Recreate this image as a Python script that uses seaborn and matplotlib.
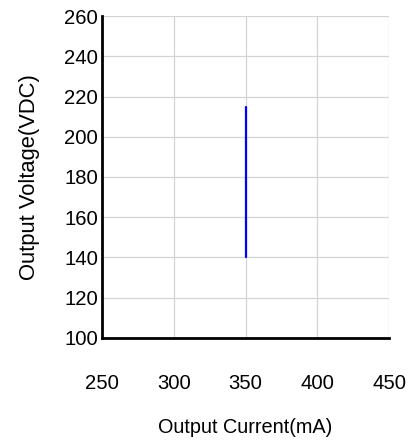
import seaborn as sns
import pandas as pd
import matplotlib.pyplot as plt

# Output range at 350 mA
current = [350, 350]
voltage = [140, 215]

x_ticks = [250, 300, 350, 400, 450]
y_ticks = [100, 120, 140, 160, 180, 200, 220, 240, 260]

df = pd.DataFrame({"current": current, "voltage": voltage})

sns.set_theme(style="whitegrid")
plt.rcParams['font.family'] = ['Liberation Sans', 'DejaVu Sans']

fig = plt.figure(figsize=(4.1, 4.41), dpi=100)
ax = fig.add_axes([0.249, 0.2336, 0.700, 0.7301])

# estimator=None so the two points are joined, not averaged
sns.lineplot(data=df, x="current", y="voltage", color="#0000ff", linewidth=1.6,
             estimator=None, sort=False, ax=ax)

ax.set_xlim(250, 450)
ax.set_ylim(100, 260)
ax.set_xticks(x_ticks)
ax.set_yticks(y_ticks)
ax.grid(True, color="#d4d4d4", linewidth=0.9)

for side in ["top", "right"]:
    ax.spines[side].set_visible(False)
for side in ["left", "bottom"]:
    ax.spines[side].set_visible(True)
    ax.spines[side].set_color("black")
    ax.spines[side].set_linewidth(2)

ax.tick_params(axis="x", length=0, pad=26, labelsize=14.6, colors="black")
ax.tick_params(axis="y", length=0, pad=3, labelsize=14.6, colors="black")
ax.set_xlabel("Output Current(mA)", fontsize=14.3, color="black", labelpad=18)
ax.set_ylabel("Output Voltage(VDC)", fontsize=15.8, color="black", labelpad=17)

plt.savefig("out.png", dpi=100)
plt.clf()
